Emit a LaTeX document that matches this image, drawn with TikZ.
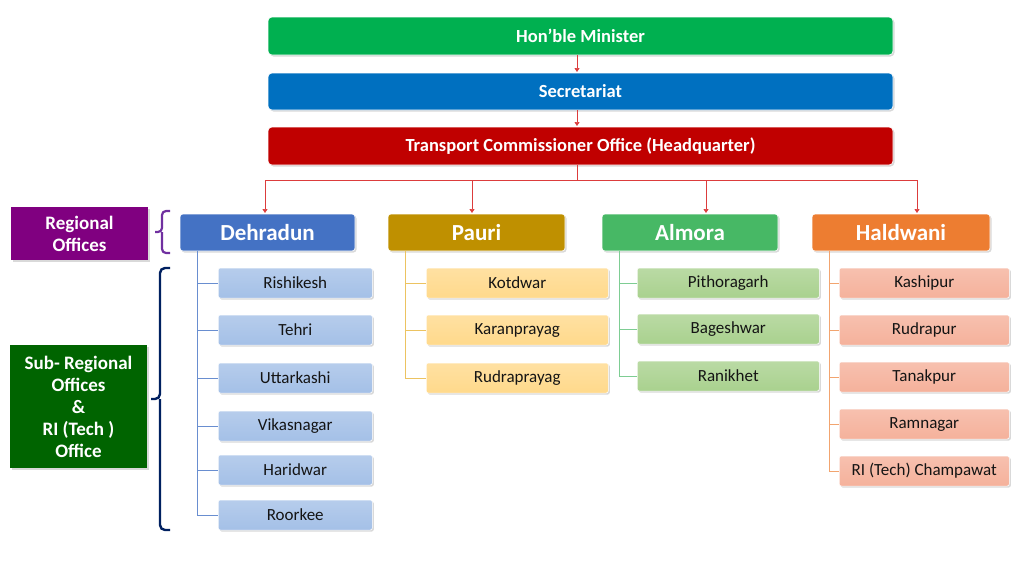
\documentclass[tikz,border=0pt]{standalone}
\usepackage{fontspec}
\setmainfont{Carlito}
\usetikzlibrary{shadows,arrows.meta}
\begin{document}
\begin{tikzpicture}[x=1pt,y=-1pt,
 top/.style={rounded corners=4pt,draw=white,line width=0.6pt,text=white,font=\bfseries\fontsize{18.5}{18.5}\selectfont,drop shadow={opacity=0.3,shadow xshift=1.5pt,shadow yshift=-1.5pt}},
 reg/.style={rounded corners=3pt,draw=white,line width=0.6pt,text=white,font=\bfseries\fontsize{23}{23}\selectfont,drop shadow={opacity=0.3,shadow xshift=1.5pt,shadow yshift=-1.5pt}},
 sub/.style={rounded corners=2pt,draw=white,line width=0.5pt,text={rgb,255:red,20;green,20;blue,20},font=\fontsize{17}{17}\selectfont,drop shadow={opacity=0.3,shadow xshift=1.5pt,shadow yshift=-1.5pt}},
 lab/.style={text=white,font=\bfseries\fontsize{19}{22}\selectfont,align=center,drop shadow={opacity=0.3,shadow xshift=1.5pt,shadow yshift=-1.5pt}},
 arr/.style={draw={rgb,255:red,220;green,60;blue,60},line width=0.6pt,-{Triangle[length=4pt,width=5pt]}},
 trunk/.style={line width=0.8pt}]
\useasboundingbox (0,0) rectangle (1024,576);
\definecolor{cg}{HTML}{00B050}\definecolor{cb}{HTML}{0070C0}\definecolor{cr}{HTML}{C00000}
\definecolor{d1}{HTML}{4472C4}\definecolor{d2}{HTML}{A4C0E7}
\definecolor{p1}{HTML}{BF9000}\definecolor{p2}{HTML}{FFD98B}
\definecolor{a1}{HTML}{47B865}\definecolor{a2}{HTML}{A9D18E}
\definecolor{h1}{HTML}{ED7D31}\definecolor{h2}{HTML}{F5B19B}
% top
\node[top,fill=cg,minimum width=625,minimum height=38] (min) at (580.5,36) {Hon’ble Minister};
\node[top,fill=cb,minimum width=625,minimum height=37] (sec) at (580.5,91.5) {Secretariat};
\node[top,fill=cr,minimum width=625,minimum height=38] (tc) at (580.5,146) {Transport Commissioner Office (Headquarter)};
\draw[arr] (577,55) -- (577,72);
\draw[arr] (577,110) -- (577,126);
% regions
\node[reg,fill=d1,minimum width=175,minimum height=37] (deh) at (267.5,232.5) {Dehradun};
\node[reg,fill=p1,minimum width=177,minimum height=37] (pau) at (476.5,232.5) {Pauri};
\node[reg,fill=a1,minimum width=176,minimum height=37] (alm) at (690,232.5) {Almora};
\node[reg,fill=h1,minimum width=178,minimum height=37] (hal) at (901,232.5) {Haldwani};
\coordinate (j) at (577,180);
\draw[draw={rgb,255:red,220;green,60;blue,60},line width=0.6pt] (tc.south -| j) -- (j);
\draw[draw={rgb,255:red,220;green,60;blue,60},line width=0.6pt] (265,180) -- (917,180);
\foreach \x in {265,472,706,917}{\draw[arr] (\x,180) -- (\x,213);}
% labels
\node[lab,fill={rgb,255:red,128;green,0;blue,128},minimum width=137,minimum height=53] (ro) at (79.5,233.5) {Regional\\Offices};
\node[lab,fill={rgb,255:red,0;green,100;blue,0},minimum width=137,minimum height=123] (so) at (78.5,406.5) {Sub- Regional\\Offices\\\&\\RI (Tech )\\Office};
\draw[line width=2.2pt,color={rgb,255:red,112;green,48;blue,160},rounded corners=4pt] (170,211) -- (162,211) -- (162,232) -- (155,232) (162,232) -- (162,253) -- (170,253);
\draw[line width=2.4pt,color={rgb,255:red,0;green,32;blue,96},rounded corners=5pt] (170,268) -- (160,268) -- (160,399) -- (151,399) (160,399) -- (160,530) -- (170,530);
% children
\newcommand{\kids}[7]{%
 \draw[trunk,draw=#4] (#1,251) -- (#1,#6);
 \foreach \n/\y [count=\i] in {#5}{%
  \node[sub,top color=#3!80!white,bottom color=#3,minimum width=#2,minimum height=30,anchor=west] (k\i) at (#1+#7,\y) {\n};
  \draw[trunk,draw=#4] (#1,\y) -- (k\i.west);}}
\kids{197}{154}{d2}{d1!80!white}{Rishikesh/283,Tehri/330,Uttarkashi/378,Vikasnagar/426,Haridwar/470,Roorkee/515}{515}{21}
\kids{405}{182}{p2}{p2!70!p1}{Kotdwar/283,Karanprayag/330,Rudraprayag/378}{378}{21}
\kids{619}{182}{a2}{a1!70!white}{Pithoragarh/283,Bageshwar/329,Ranikhet/376}{376}{18}
\kids{829}{170}{h2}{h1!70!white}{Kashipur/283,Rudrapur/330,Tanakpur/377,Ramnagar/424,RI (Tech) Champawat/471}{471}{10}
\end{tikzpicture}
\end{document}
